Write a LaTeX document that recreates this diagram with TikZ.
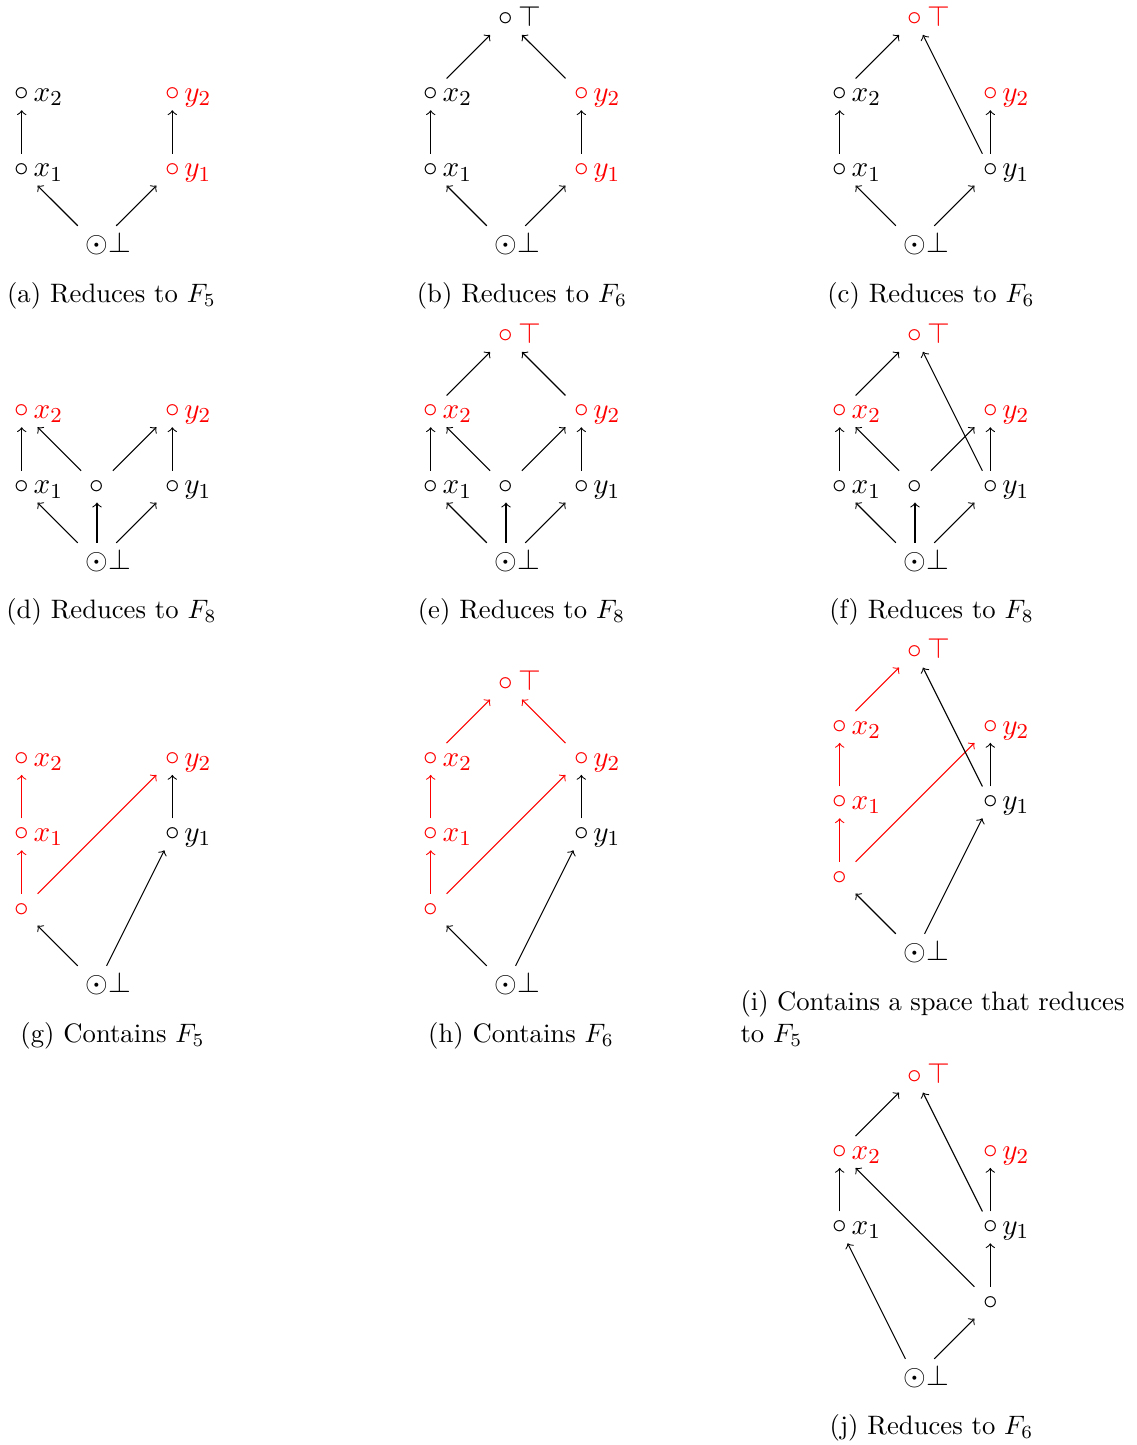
\documentclass[tikz,border=0pt]{standalone}
\usepackage{tikz}
\usetikzlibrary{positioning}
\tikzset{
  every label/.style={inner sep=0pt,font=\fontsize{11}{13.6}\selectfont,text height=1.5ex,text depth=0.25ex},
  vertex/.style={inner sep=3.333pt,font=\fontsize{11}{13.6}\selectfont},
  elt/.style={label={[xshift=-1.95pt]right:#1}},
  relt/.style={red,label={[red,xshift=-1.95pt]right:#1}},
  bottom/.style={label={[xshift=-3.6pt]right:$\bot$}},
  cover/.style={->},
  rcover/.style={->,red},
  caption/.style={inner sep=0pt,align=center},
  hasse/.style={x=28.25pt,y=28.25pt}
}

\begin{document}
\begin{tikzpicture}[x=0.375pt,y=-0.375pt]
\useasboundingbox (0,0) rectangle (1136,1445);

% (a)
\begin{scope}[shift={(97,245)},hasse]
  \node[vertex,bottom] (a-bot) at (0,0) {$\odot$};
  \node[vertex,elt=$x_1$] (a-x1) at (-1,1) {$\circ$};
  \node[vertex,elt=$x_2$] (a-x2) at (-1,2) {$\circ$};
  \node[vertex,relt=$y_1$] (a-y1) at (1,1) {$\circ$};
  \node[vertex,relt=$y_2$] (a-y2) at (1,2) {$\circ$};
  \draw[cover] (a-bot) -- (a-x1);
  \draw[cover] (a-bot) -- (a-y1);
  \draw[cover] (a-x1) -- (a-x2);
  \draw[cover] (a-y1) -- (a-y2);
\end{scope}
\node[caption] (a-cap) at (111.5,296) {(a) Reduces to $F_5$};

% (b)
\begin{scope}[shift={(506,245)},hasse]
  \node[vertex,bottom] (b-bot) at (0,0) {$\odot$};
  \node[vertex,elt=$x_1$] (b-x1) at (-1,1) {$\circ$};
  \node[vertex,elt=$x_2$] (b-x2) at (-1,2) {$\circ$};
  \node[vertex,relt=$y_1$] (b-y1) at (1,1) {$\circ$};
  \node[vertex,relt=$y_2$] (b-y2) at (1,2) {$\circ$};
  \node[vertex,elt=$\top$] (b-top) at (0,3) {$\circ$};
  \draw[cover] (b-bot) -- (b-x1);
  \draw[cover] (b-bot) -- (b-y1);
  \draw[cover] (b-x1) -- (b-x2);
  \draw[cover] (b-y1) -- (b-y2);
  \draw[cover] (b-x2) -- (b-top);
  \draw[cover] (b-y2) -- (b-top);
\end{scope}
\node[caption] (b-cap) at (522,296) {(b) Reduces to $F_6$};

% (c)
\begin{scope}[shift={(915,245)},hasse]
  \node[vertex,bottom] (c-bot) at (0,0) {$\odot$};
  \node[vertex,elt=$x_1$] (c-x1) at (-1,1) {$\circ$};
  \node[vertex,elt=$x_2$] (c-x2) at (-1,2) {$\circ$};
  \node[vertex,elt=$y_1$] (c-y1) at (1,1) {$\circ$};
  \node[vertex,relt=$y_2$] (c-y2) at (1,2) {$\circ$};
  \node[vertex,relt=$\top$] (c-top) at (0,3) {$\circ$};
  \draw[cover] (c-bot) -- (c-x1);
  \draw[cover] (c-bot) -- (c-y1);
  \draw[cover] (c-x1) -- (c-x2);
  \draw[cover] (c-y1) -- (c-y2);
  \draw[cover] (c-x2) -- (c-top);
  \draw[cover] (c-y1) -- (c-top);
\end{scope}
\node[caption] (c-cap) at (931,296) {(c) Reduces to $F_6$};

% (d)
\begin{scope}[shift={(97,562)},hasse]
  \node[vertex,bottom] (d-bot) at (0,0) {$\odot$};
  \node[vertex,elt=$x_1$] (d-x1) at (-1,1) {$\circ$};
  \node[vertex] (d-m) at (0,1) {$\circ$};
  \node[vertex,elt=$y_1$] (d-y1) at (1,1) {$\circ$};
  \node[vertex,relt=$x_2$] (d-x2) at (-1,2) {$\circ$};
  \node[vertex,relt=$y_2$] (d-y2) at (1,2) {$\circ$};
  \draw[cover] (d-bot) -- (d-x1);
  \draw[cover] (d-bot) -- (d-m);
  \draw[cover] (d-bot) -- (d-y1);
  \draw[cover] (d-x1) -- (d-x2);
  \draw[cover] (d-m) -- (d-x2);
  \draw[cover] (d-m) -- (d-y2);
  \draw[cover] (d-y1) -- (d-y2);
\end{scope}
\node[caption] (d-cap) at (111.5,612) {(d) Reduces to $F_8$};

% (e)
\begin{scope}[shift={(506,562)},hasse]
  \node[vertex,bottom] (e-bot) at (0,0) {$\odot$};
  \node[vertex,elt=$x_1$] (e-x1) at (-1,1) {$\circ$};
  \node[vertex] (e-m) at (0,1) {$\circ$};
  \node[vertex,elt=$y_1$] (e-y1) at (1,1) {$\circ$};
  \node[vertex,relt=$x_2$] (e-x2) at (-1,2) {$\circ$};
  \node[vertex,relt=$y_2$] (e-y2) at (1,2) {$\circ$};
  \node[vertex,relt=$\top$] (e-top) at (0,3) {$\circ$};
  \draw[cover] (e-bot) -- (e-x1);
  \draw[cover] (e-bot) -- (e-m);
  \draw[cover] (e-bot) -- (e-y1);
  \draw[cover] (e-x1) -- (e-x2);
  \draw[cover] (e-m) -- (e-x2);
  \draw[cover] (e-m) -- (e-y2);
  \draw[cover] (e-y1) -- (e-y2);
  \draw[cover] (e-x2) -- (e-top);
  \draw[cover] (e-y2) -- (e-top);
\end{scope}
\node[caption] (e-cap) at (521.5,612) {(e) Reduces to $F_8$};

% (f)
\begin{scope}[shift={(915,562)},hasse]
  \node[vertex,bottom] (f-bot) at (0,0) {$\odot$};
  \node[vertex,elt=$x_1$] (f-x1) at (-1,1) {$\circ$};
  \node[vertex] (f-m) at (0,1) {$\circ$};
  \node[vertex,elt=$y_1$] (f-y1) at (1,1) {$\circ$};
  \node[vertex,relt=$x_2$] (f-x2) at (-1,2) {$\circ$};
  \node[vertex,relt=$y_2$] (f-y2) at (1,2) {$\circ$};
  \node[vertex,relt=$\top$] (f-top) at (0,3) {$\circ$};
  \draw[cover] (f-bot) -- (f-x1);
  \draw[cover] (f-bot) -- (f-m);
  \draw[cover] (f-bot) -- (f-y1);
  \draw[cover] (f-x1) -- (f-x2);
  \draw[cover] (f-m) -- (f-x2);
  \draw[cover] (f-m) -- (f-y2);
  \draw[cover] (f-y1) -- (f-y2);
  \draw[cover] (f-x2) -- (f-top);
  \draw[cover] (f-y1) -- (f-top);
\end{scope}
\node[caption] (f-cap) at (931.5,612) {(f) Reduces to $F_8$};

% (g)
\begin{scope}[shift={(97,985)},hasse]
  \node[vertex,bottom] (g-bot) at (0,0) {$\odot$};
  \node[vertex,red] (g-m) at (-1,1) {$\circ$};
  \node[vertex,relt=$x_1$] (g-x1) at (-1,2) {$\circ$};
  \node[vertex,relt=$x_2$] (g-x2) at (-1,3) {$\circ$};
  \node[vertex,elt=$y_1$] (g-y1) at (1,2) {$\circ$};
  \node[vertex,relt=$y_2$] (g-y2) at (1,3) {$\circ$};
  \draw[cover] (g-bot) -- (g-m);
  \draw[cover] (g-bot) -- (g-y1);
  \draw[rcover] (g-m) -- (g-x1);
  \draw[rcover] (g-x1) -- (g-x2);
  \draw[rcover] (g-m) -- (g-y2);
  \draw[cover] (g-y1) -- (g-y2);
\end{scope}
\node[caption] (g-cap) at (112.5,1036) {(g) Contains $F_5$};

% (h)
\begin{scope}[shift={(506,985)},hasse]
  \node[vertex,bottom] (h-bot) at (0,0) {$\odot$};
  \node[vertex,red] (h-m) at (-1,1) {$\circ$};
  \node[vertex,relt=$x_1$] (h-x1) at (-1,2) {$\circ$};
  \node[vertex,relt=$x_2$] (h-x2) at (-1,3) {$\circ$};
  \node[vertex,elt=$y_1$] (h-y1) at (1,2) {$\circ$};
  \node[vertex,relt=$y_2$] (h-y2) at (1,3) {$\circ$};
  \node[vertex,relt=$\top$] (h-top) at (0,4) {$\circ$};
  \draw[cover] (h-bot) -- (h-m);
  \draw[cover] (h-bot) -- (h-y1);
  \draw[rcover] (h-m) -- (h-x1);
  \draw[rcover] (h-x1) -- (h-x2);
  \draw[rcover] (h-m) -- (h-y2);
  \draw[cover] (h-y1) -- (h-y2);
  \draw[rcover] (h-x2) -- (h-top);
  \draw[rcover] (h-y2) -- (h-top);
\end{scope}
\node[caption] (h-cap) at (521,1036) {(h) Contains $F_6$};

% (i)
\begin{scope}[shift={(915,953)},hasse]
  \node[vertex,bottom] (i-bot) at (0,0) {$\odot$};
  \node[vertex,red] (i-m) at (-1,1) {$\circ$};
  \node[vertex,relt=$x_1$] (i-x1) at (-1,2) {$\circ$};
  \node[vertex,relt=$x_2$] (i-x2) at (-1,3) {$\circ$};
  \node[vertex,elt=$y_1$] (i-y1) at (1,2) {$\circ$};
  \node[vertex,relt=$y_2$] (i-y2) at (1,3) {$\circ$};
  \node[vertex,relt=$\top$] (i-top) at (0,4) {$\circ$};
  \draw[cover] (i-bot) -- (i-m);
  \draw[cover] (i-bot) -- (i-y1);
  \draw[rcover] (i-m) -- (i-x1);
  \draw[rcover] (i-x1) -- (i-x2);
  \draw[rcover] (i-m) -- (i-y2);
  \draw[rcover] (i-x2) -- (i-top);
  \draw[cover] (i-y1) -- (i-y2);
  \draw[cover] (i-y1) -- (i-top);
\end{scope}
\node[inner sep=0pt,text width=144pt,align=justify,anchor=north west] (i-cap) at (740,990)
  {(i) Contains a space that reduces to $F_5$};

% (j)
\begin{scope}[shift={(915,1378)},hasse]
  \node[vertex,bottom] (j-bot) at (0,0) {$\odot$};
  \node[vertex] (j-m) at (1,1) {$\circ$};
  \node[vertex,elt=$x_1$] (j-x1) at (-1,2) {$\circ$};
  \node[vertex,elt=$y_1$] (j-y1) at (1,2) {$\circ$};
  \node[vertex,relt=$x_2$] (j-x2) at (-1,3) {$\circ$};
  \node[vertex,relt=$y_2$] (j-y2) at (1,3) {$\circ$};
  \node[vertex,relt=$\top$] (j-top) at (0,4) {$\circ$};
  \draw[cover] (j-bot) -- (j-x1);
  \draw[cover] (j-bot) -- (j-m);
  \draw[cover] (j-m) -- (j-y1);
  \draw[cover] (j-m) -- (j-x2);
  \draw[cover] (j-x1) -- (j-x2);
  \draw[cover] (j-y1) -- (j-y2);
  \draw[cover] (j-x2) -- (j-top);
  \draw[cover] (j-y1) -- (j-top);
\end{scope}
\node[caption] (j-cap) at (931.5,1428) {(j) Reduces to $F_6$};
\end{tikzpicture}
\end{document}
